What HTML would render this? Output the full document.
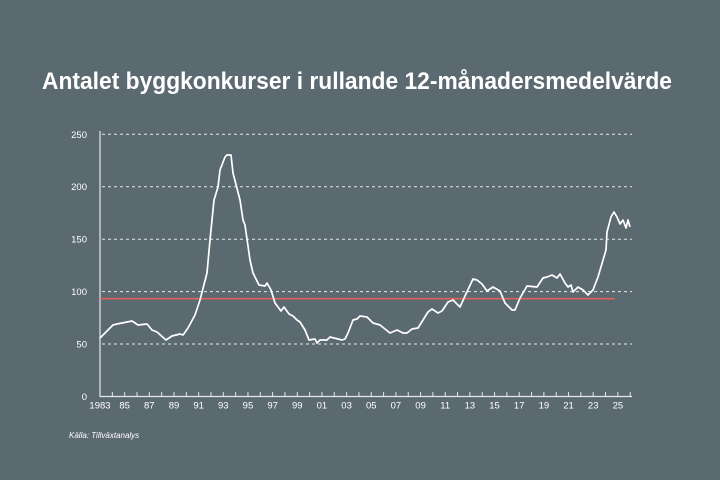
<!DOCTYPE html>
<html><head><meta charset="utf-8"><style>
html,body{margin:0;padding:0;background:#5b6970;}
svg{display:block}
</style></head><body>
<svg width="720" height="480" xmlns="http://www.w3.org/2000/svg">
<rect width="720" height="480" fill="#5b6970"/>
<text x="42" y="89" fill="#fff" font-family="Liberation Sans, sans-serif" font-weight="bold" font-size="24" textLength="630" lengthAdjust="spacingAndGlyphs">Antalet byggkonkurser i rullande 12-månadersmedelvärde</text>
<g stroke="#e6eaec" stroke-width="1" stroke-dasharray="3,3">
<line x1="102" y1="134.3" x2="632" y2="134.3"/>
<line x1="102" y1="186.7" x2="632" y2="186.7"/>
<line x1="102" y1="239.2" x2="632" y2="239.2"/>
<line x1="102" y1="291.6" x2="632" y2="291.6"/>
<line x1="102" y1="344" x2="632" y2="344"/>
</g>
<g font-family="Liberation Sans, sans-serif" font-size="9.5" fill="#fff" text-anchor="end">
<text x="87" y="138">250</text><text x="87" y="190">200</text><text x="87" y="242.5">150</text><text x="87" y="295">100</text><text x="87" y="347.5">50</text><text x="87" y="400">0</text>
</g>
<line x1="100" y1="131" x2="100" y2="397" stroke="#e6eaec" stroke-width="1.2"/>
<line x1="100" y1="396.5" x2="632" y2="396.5" stroke="#e6eaec" stroke-width="1.2"/>
<g stroke="#e6eaec" stroke-width="1" id="ticks"></g>
<g font-family="Liberation Sans, sans-serif" font-size="9.5" fill="#fff" text-anchor="middle" id="xl"></g>
<line x1="100" y1="298.7" x2="615" y2="298.7" stroke="#e0605a" stroke-width="1.6"/>
<polyline fill="none" stroke="#fff" stroke-width="1.7" stroke-linejoin="round" points="100,338 113,325 117,324 127,322 132,321 138,325 147,324 152,330 157,332 166,340 172,336 180,334 183,335 188,328 195,315 200,300 207,273 210,240 214,200 218,187 220,170 225,157 227,155 231,155 233,173 240,200 243,220 245,225 250,260 253,273 259,285 265,286 267,283 271,290 275,303 278,307 281,311 284,307 289,314 293,316 297,320 300,322 305,330 309,340 315,339 317,343 320,340 327,340 330,337 342,340 345,339 348,333 353,320 357,319 360,316 367,317 373,323 380,325 390,333 397,330 403,333 407,333 412,329 418,328 423,320 428,312 432,309 438,313 442,311 448,302 453,300 458,305 460,307 465,296 473,279 477,280 482,284 487,291 493,287 500,291 505,303 512,310 515,310 520,298 523,293 527,286 537,287 543,278 547,277 552,275 557,278 560,274 565,283 568,287 571,285 573,292 578,287 583,290 588,295 593,290 598,277 606,250 607,232 611,217 614,212 617,217 620,224 623,220 626,228 628,220 630,227"/>
<text x="69" y="438" fill="#fff" font-family="Liberation Sans, sans-serif" font-style="italic" font-size="8">Källa: Tillväxtanalys</text>
<script>
var t=document.getElementById('ticks'),l=document.getElementById('xl'),ns='http://www.w3.org/2000/svg';
for(var y=1983;y<=2026;y++){var x=100+(y-1983)*12.33;
var e=document.createElementNS(ns,'line');e.setAttribute('x1',x);e.setAttribute('x2',x);e.setAttribute('y1',392);e.setAttribute('y2',396.5);t.appendChild(e);
if((y-1983)%2==0&&y<=2025){var s=document.createElementNS(ns,'text');s.setAttribute('x',x);s.setAttribute('y',408.5);s.textContent=y==1983?'1983':String(y%100).padStart(2,'0');l.appendChild(s);}}
</script>
</svg>
</body></html>
